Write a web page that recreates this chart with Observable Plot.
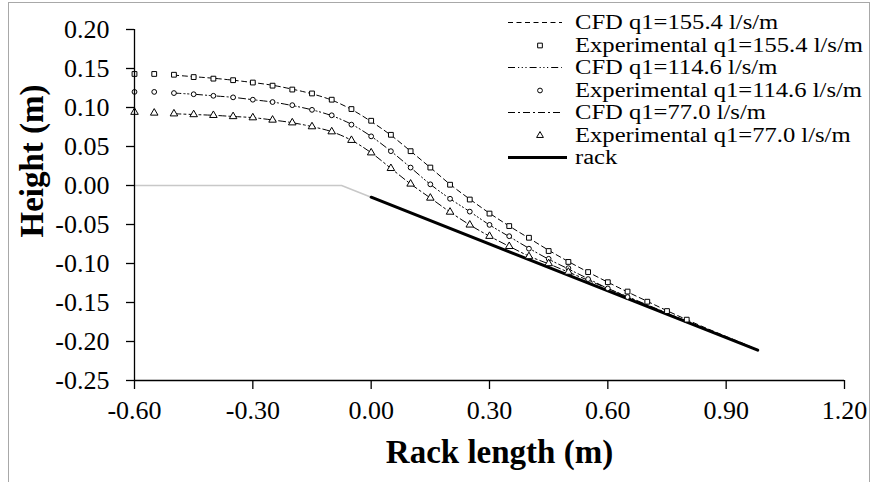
<!DOCTYPE html>
<html>
<head>
<meta charset="utf-8">
<script src="https://cdn.jsdelivr.net/npm/d3@7"></script>
<script src="https://cdn.jsdelivr.net/npm/@observablehq/plot@0.6"></script>
<style>
  html, body { margin: 0; padding: 0; background: #fff; }
  #wrap { position: relative; width: 876px; height: 482px; overflow: hidden; background: #fff; }
  #border { position: absolute; left: 8px; top: 2px; width: 860px; height: 500px; border: 1px solid #a8a8a8; pointer-events: none; }
  #legend { position: absolute; left: 0; top: 0; width: 876px; height: 200px; pointer-events: none; font-family: "Liberation Serif", "Times New Roman", serif; }
  .row { position: absolute; left: 500px; height: 22px; }
  .row svg { position: absolute; left: 0; top: 0; }
  .row span { position: absolute; left: 75px; top: 0px; font-size: 20.5px; white-space: nowrap; transform: scaleX(1.2); transform-origin: 0 50%; line-height: 22px; color: #000; }
</style>
</head>
<body>
<div id="wrap">
  <div id="chart"></div>
  <div id="legend"></div>
  <div id="border"></div>
</div>
<script>
// ---- tick values ----
const xTicks = [-0.60, -0.30, 0.00, 0.30, 0.60, 0.90, 1.20];
const yTicks = [-0.25, -0.20, -0.15, -0.10, -0.05, 0.00, 0.05, 0.10, 0.15, 0.20];

// ---- experimental points ----
const exp155X = [-0.60,-0.55,-0.50,-0.45,-0.40,-0.35,-0.30,-0.25,-0.20,-0.15,-0.10,-0.05,0.00,0.05,0.10,0.15,0.20,0.25,0.30,0.35,0.40,0.45,0.50,0.55,0.60,0.65,0.70,0.75,0.80];
const exp155Y = [0.143,0.143,0.142,0.139,0.137,0.135,0.132,0.128,0.123,0.118,0.110,0.098,0.083,0.065,0.044,0.023,0.001,-0.018,-0.036,-0.052,-0.067,-0.084,-0.098,-0.111,-0.124,-0.136,-0.149,-0.161,-0.172];

const exp114X = [-0.60,-0.55,-0.50,-0.45,-0.40,-0.35,-0.30,-0.25,-0.20,-0.15,-0.10,-0.05,0.00,0.05,0.10,0.15,0.20,0.25,0.30,0.35,0.40,0.45,0.50,0.55,0.60,0.65];
const exp114Y = [0.120,0.120,0.1185,0.117,0.115,0.113,0.110,0.107,0.103,0.097,0.090,0.078,0.063,0.044,0.023,0.0015,-0.017,-0.0335,-0.0505,-0.065,-0.081,-0.094,-0.106,-0.120,-0.132,-0.143];

const exp77X = [-0.60,-0.55,-0.50,-0.45,-0.40,-0.35,-0.30,-0.25,-0.20,-0.15,-0.10,-0.05,0.00,0.05,0.10,0.15,0.20,0.25,0.30,0.35,0.40,0.45,0.50];
const exp77Y = [0.094,0.093,0.092,0.091,0.090,0.0885,0.087,0.084,0.0805,0.0755,0.069,0.058,0.042,0.022,0.002,-0.016,-0.034,-0.0505,-0.065,-0.078,-0.091,-0.100,-0.111];

// ---- CFD curves ----
const cfdX = [-0.50,-0.45,-0.40,-0.35,-0.30,-0.25,-0.20,-0.15,-0.10,-0.05,0.00,0.05,0.10,0.15,0.20,0.25,0.30,0.35,0.40,0.45,0.50,0.55,0.60,0.65,0.70,0.75,0.80,0.85,0.90,0.95,0.98];
const cfd155Y = [0.1415,0.1395,0.1375,0.135,0.132,0.1285,0.1235,0.1175,0.1095,0.0975,0.082,0.0645,0.0440,0.0230,0.0015,-0.0175,-0.0355,-0.0520,-0.0675,-0.0830,-0.0975,-0.1110,-0.1240,-0.1365,-0.1485,-0.1605,-0.1720,-0.1830,-0.1935,-0.2040,-0.2110];
const cfd114Y = [0.1185,0.117,0.115,0.113,0.110,0.107,0.1025,0.097,0.0895,0.0785,0.063,0.0440,0.0230,0.0015,-0.0170,-0.0335,-0.0505,-0.0655,-0.0805,-0.0945,-0.1070,-0.1195,-0.1320,-0.1430,-0.1540,-0.1645,-0.1745,-0.1845,-0.1945,-0.2045,-0.2110];
const cfd77Y = [0.092,0.091,0.090,0.0885,0.087,0.084,0.0805,0.0755,0.069,0.058,0.042,0.022,0.002,-0.016,-0.034,-0.0505,-0.065,-0.078,-0.0905,-0.1005,-0.1110,-0.1215,-0.1320,-0.1425,-0.1530,-0.1635,-0.1740,-0.1845,-0.1950,-0.2050,-0.2110];

// ---- channel bed (grey) and rack ----
const bedX = [-0.60, -0.075, 0.00];
const bedY = [0.000, 0.000, -0.015];
const rackX = [0.00, 0.98];
const rackY = [-0.015, -0.211];

// ---- legend labels ----
const legendLabels = ["CFD q1=155.4 l/s/m", "Experimental q1=155.4 l/s/m", "CFD q1=114.6 l/s/m", "Experimental q1=114.6 l/s/m", "CFD q1=77.0 l/s/m", "Experimental q1=77.0 l/s/m", "rack"];
const xTitle = "Rack length (m)";
const yTitle = "Height (m)";

const zip = (xs, ys) => xs.map((x, i) => ({x, y: ys[i]}));
const fmt = d => (Math.abs(d) < 1e-9 ? 0 : d).toFixed(2);

const dash155 = "5,3.5";
const dash114 = "7,3,1.2,2.5,1.2,2.5,1.2,3";
const dash77 = "7,3,2,3";

const plot = Plot.plot({
  width: 876,
  height: 482,
  marginLeft: 134,
  marginRight: 32,
  marginTop: 29,
  marginBottom: 102,
  x: {domain: [-0.6, 1.2]},
  y: {domain: [-0.25, 0.2]},
  style: {fontFamily: "'Liberation Serif', 'Times New Roman', serif", fontSize: "26px", color: "#000", background: "transparent", overflow: "visible"},
  marks: [
    Plot.line(zip(bedX, bedY), {x: "x", y: "y", stroke: "#c8c8c8", strokeWidth: 1.5}),
    Plot.line(zip(cfdX, cfd155Y), {x: "x", y: "y", stroke: "#000", strokeWidth: 1, strokeDasharray: dash155, curve: "catmull-rom"}),
    Plot.line(zip(cfdX, cfd114Y), {x: "x", y: "y", stroke: "#000", strokeWidth: 1, strokeDasharray: dash114, curve: "catmull-rom"}),
    Plot.line(zip(cfdX, cfd77Y), {x: "x", y: "y", stroke: "#000", strokeWidth: 1, strokeDasharray: dash77, curve: "catmull-rom"}),
    Plot.line(zip(rackX, rackY), {x: "x", y: "y", stroke: "#000", strokeWidth: 3}),
    Plot.dot(zip(exp155X, exp155Y), {x: "x", y: "y", symbol: "square", r: 2.7, stroke: "#000", strokeWidth: 1, fill: "#fff"}),
    Plot.dot(zip(exp114X, exp114Y), {x: "x", y: "y", symbol: "circle", r: 2.4, stroke: "#000", strokeWidth: 1, fill: "#fff"}),
    Plot.dot(zip(exp77X, exp77Y), {x: "x", y: "y", symbol: "triangle", r: 2.8, stroke: "#000", strokeWidth: 1, fill: "#fff"}),
    Plot.ruleX([-0.6], {stroke: "#000", strokeWidth: 1.3}),
    Plot.ruleY([-0.25], {stroke: "#000", strokeWidth: 1.3}),
    Plot.axisY({ticks: yTicks, tickFormat: fmt, tickSize: 8, tickPadding: 17, label: null, strokeWidth: 1.3}),
    Plot.axisX({ticks: xTicks, tickFormat: fmt, tickSize: 9, tickPadding: 11, label: null, strokeWidth: 1.3}),
    Plot.text([xTitle], {frameAnchor: "bottom", textAnchor: "middle", lineAnchor: "middle", dx: 10, dy: 72, fontSize: 33, fontWeight: "bold"}),
    Plot.text([yTitle], {frameAnchor: "left", textAnchor: "middle", lineAnchor: "middle", rotate: -90, dx: -102, dy: -44, fontSize: 33, fontWeight: "bold"})
  ]
});
document.getElementById("chart").appendChild(plot);

// ---- legend overlay ----
const legend = d3.select("#legend");
const rowTop = [11, 33.5, 56, 78.5, 101, 123.5, 146];
const kinds = [
  {type: "line", dash: dash155},
  {type: "dot", sym: d3.symbolSquare, size: 22},
  {type: "line", dash: dash114},
  {type: "dot", sym: d3.symbolCircle, size: 18},
  {type: "line", dash: dash77},
  {type: "dot", sym: d3.symbolTriangle, size: 20},
  {type: "rack"}
];
legendLabels.forEach((label, i) => {
  const row = legend.append("div").attr("class", "row").style("top", rowTop[i] + "px");
  const svg = row.append("svg").attr("width", 72).attr("height", 22);
  const k = kinds[i];
  if (k.type === "line") {
    svg.append("line").attr("x1", 8).attr("x2", 62).attr("y1", 11.5).attr("y2", 11.5)
      .attr("stroke", "#000").attr("stroke-width", 1).attr("stroke-dasharray", k.dash);
  } else if (k.type === "rack") {
    svg.append("line").attr("x1", 8).attr("x2", 67).attr("y1", 11.5).attr("y2", 11.5)
      .attr("stroke", "#000").attr("stroke-width", 3);
  } else {
    svg.append("path").attr("d", d3.symbol(k.sym, k.size)()).attr("transform", "translate(40,11.5)")
      .attr("fill", "#fff").attr("stroke", "#000").attr("stroke-width", 1);
  }
  row.append("span").text(label);
});
</script>
</body>
</html>
